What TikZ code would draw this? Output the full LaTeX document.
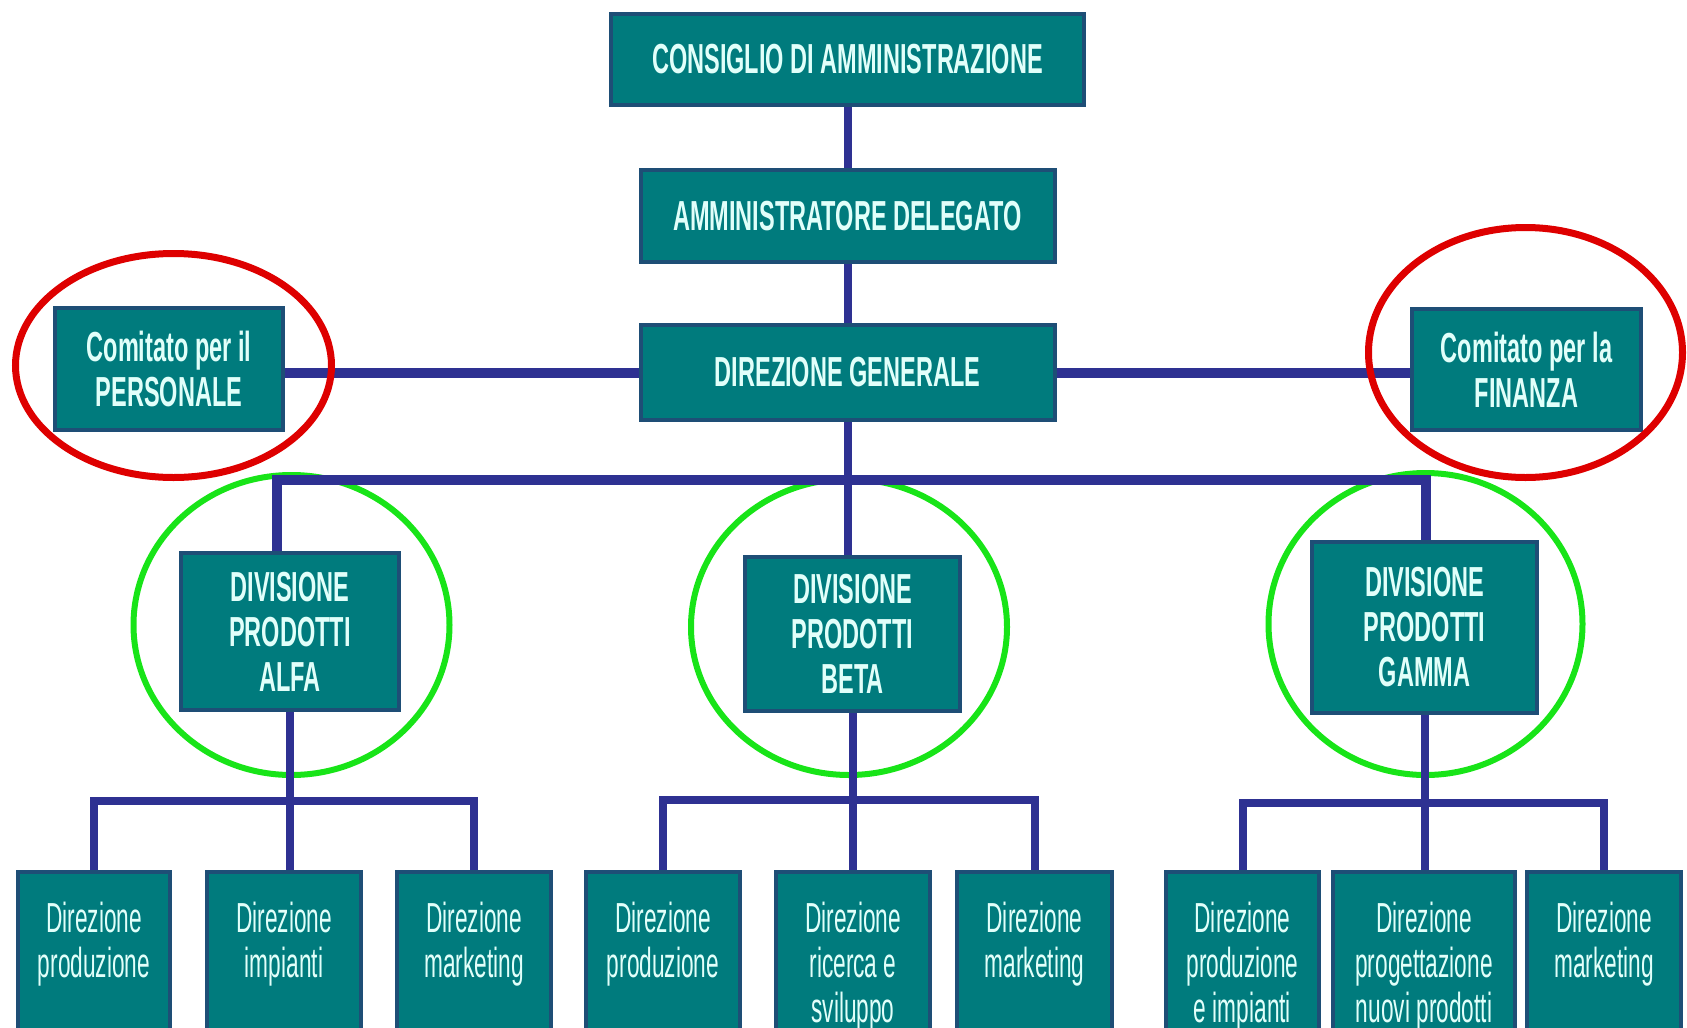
\documentclass[tikz,border=0pt]{standalone}
\usepackage{fontspec}
\newfontfamily\headfont{Liberation Sans}[FakeStretch=0.56, UprightFont=* Bold]
\newfontfamily\subfont{Liberation Sans}[FakeStretch=0.54]
\usetikzlibrary{positioning}

\definecolor{boxfill}{RGB}{0,123,125}
\definecolor{boxedge}{RGB}{30,78,118}
\definecolor{boxtext}{RGB}{225,255,250}
\definecolor{linkblue}{RGB}{46,49,146}
\definecolor{ringred}{RGB}{222,0,0}
\definecolor{ringgreen}{RGB}{24,228,24}

\newcommand{\dirtext}[1]{\parbox[t][150pt][t]{150pt}{\centering #1}}

\begin{document}
\begin{tikzpicture}[x=1pt, y=-1pt,
  orgbox/.style = {draw=boxedge, line width=4pt, fill=boxfill, text=boxtext, inner sep=0pt},
  headbox/.style = {orgbox, align=center, font=\headfont\fontsize{42}{45}\selectfont},
  dirbox/.style = {orgbox, inner ysep=30pt, minimum width=#1, font=\subfont\fontsize{42}{45}\selectfont},
  link/.style = {draw=linkblue, line width=8pt, line join=miter},
  bus/.style = {draw=linkblue, line width=10pt, line join=miter},
  redring/.style = {draw=ringred, line width=7pt},
  greenring/.style = {draw=ringgreen, line width=6pt}]
\useasboundingbox (0,0) rectangle (1687,1028);
\clip (0,0) rectangle (1687,1028);

% green rings go under the bars
\draw[greenring] (291.5,625) ellipse [x radius=158pt, y radius=150pt];
\draw[greenring] (849,627) ellipse [x radius=158pt, y radius=148pt];
\draw[greenring] (1425.5,624) ellipse [x radius=157pt, y radius=151pt];

\node[headbox, minimum width=473pt, minimum height=91pt] (cda) at (847.5,59.5) {CONSIGLIO DI AMMINISTRAZIONE};
\node[headbox, minimum width=414pt, minimum height=92pt] (ad) [below = 61pt of cda] {AMMINISTRATORE DELEGATO};
\node[headbox, minimum width=414pt, minimum height=95pt] (dg) [below = 59pt of ad] {DIREZIONE GENERALE};
\node[headbox, minimum width=228pt, minimum height=122pt] (cper) at (169,369) {Comitato per il\\PERSONALE};
\node[headbox, minimum width=229pt, minimum height=121pt] (cfin) at (1526.5,369.5) {Comitato per la\\FINANZA};

\node[headbox, minimum width=218pt, minimum height=157pt] (alfa) at (290,631.5) {DIVISIONE\\PRODOTTI\\ALFA};
\node[headbox, minimum width=215pt, minimum height=154pt] (beta) at (852.5,634) {DIVISIONE\\PRODOTTI\\BETA};
\node[headbox, minimum width=225pt, minimum height=171pt] (gamma) at (1424.5,627.5) {DIVISIONE\\PRODOTTI\\GAMMA};

\node[dirbox=152pt, anchor=north] (a1) at (94,870) {\dirtext{Direzione\\produzione}};
\node[dirbox=154pt] (a2) [right = 33pt of a1] {\dirtext{Direzione\\impianti}};
\node[dirbox=154pt] (a3) [right = 32pt of a2] {\dirtext{Direzione\\marketing}};
\node[dirbox=154pt, anchor=north] (b1) at (663,870) {\dirtext{Direzione\\produzione}};
\node[dirbox=154pt] (b2) [right = 32pt of b1] {\dirtext{Direzione\\ricerca e\\sviluppo}};
\node[dirbox=155pt] (b3) [right = 23pt of b2] {\dirtext{Direzione\\marketing}};
\node[dirbox=153pt, anchor=north] (g1) at (1242.5,870) {\dirtext{Direzione\\produzione\\e impianti}};
\node[dirbox=182pt] (g2) [right = 10pt of g1] {\dirtext{Direzione\\progettazione\\nuovi prodotti}};
\node[dirbox=154pt] (g3) [right = 8pt of g2] {\dirtext{Direzione\\marketing}};

\coordinate (barL) at (277,480);
\coordinate (barR) at (1426,480);
\coordinate (ha) at (0,801);
\coordinate (hb) at (0,800);
\coordinate (hg) at (0,803);

\draw[link] (cda) -- (ad);
\draw[link] (ad) -- (dg);
\draw[link] (dg.south) -- (dg.south |- beta.north);
\draw[bus] (dg.west) -- (dg.west -| cper.east);
\draw[bus] (dg.east) -- (dg.east -| cfin.west);
\draw[bus] (barL |- alfa.north) -- (barL) -- (barR) -- (barR |- gamma.north);

\draw[link] (alfa.south) -- (alfa.south |- a2.north);
\draw[link] (a1.north) -- (a1.north |- ha) -- (a3.north |- ha) -- (a3.north);
\draw[link] (beta.south) -- (beta.south |- b2.north);
\draw[link] (b1.north) -- (b1.north |- hb) -- (b3.north |- hb) -- (b3.north);
\draw[link] (gamma.south) -- (gamma.south |- g2.north);
\draw[link] (g1.north) -- (g1.north |- hg) -- (g3.north |- hg) -- (g3.north);

% red rings on top
\draw[redring] (173.5,365.5) ellipse [x radius=158pt, y radius=112pt];
\draw[redring] (1525.5,352.5) ellipse [x radius=157pt, y radius=125pt];
\end{tikzpicture}
\end{document}
